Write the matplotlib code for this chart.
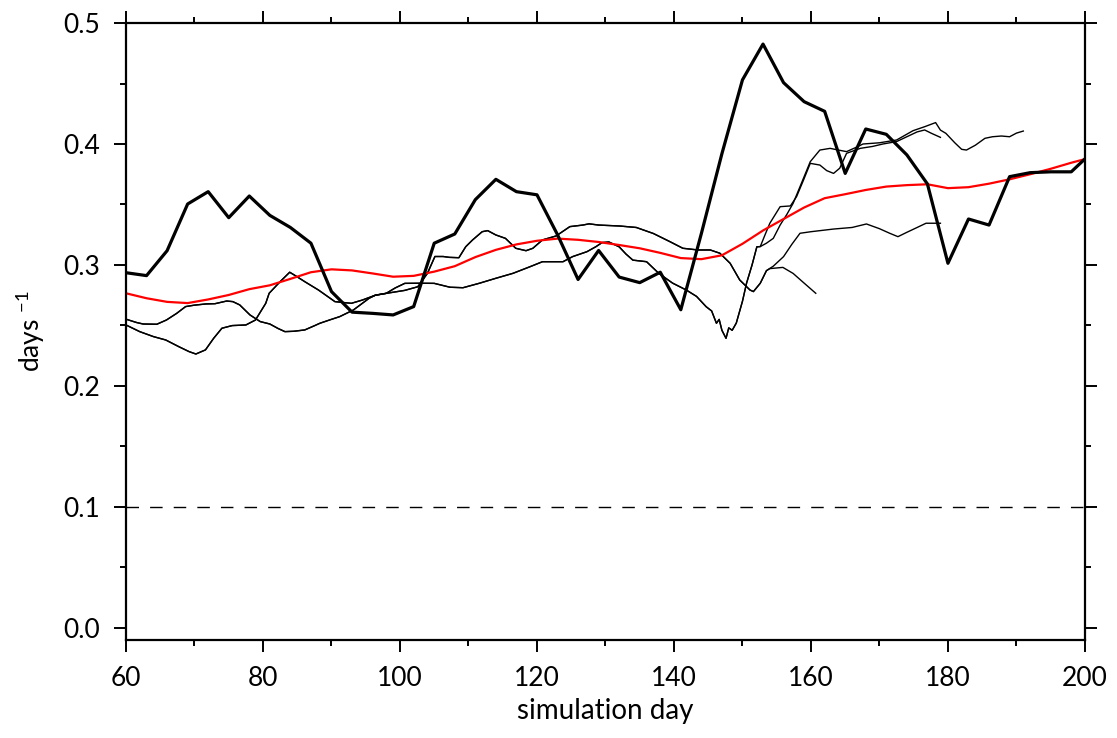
import matplotlib
matplotlib.use('Agg')
import matplotlib.pyplot as plt
import numpy as np

plt.rcParams['font.family'] = ['Lato', 'DejaVu Sans']
plt.rcParams['mathtext.default'] = 'regular'

# thick black line (sampled every 3 days)
thick_day = list(range(60, 202, 3))
thick_val = [0.2936, 0.2912, 0.3118, 0.3504, 0.3606, 0.3391, 0.3570, 0.3410,
             0.3310, 0.3180, 0.2780, 0.2610, 0.2600, 0.2587, 0.2656, 0.3180,
             0.3256, 0.3540, 0.3708, 0.3606, 0.3580, 0.3250, 0.2880, 0.3120,
             0.2900, 0.2854, 0.2940, 0.2630, 0.3260, 0.3920, 0.4530, 0.4826,
             0.4507, 0.4350, 0.4270, 0.3757, 0.4124, 0.4080, 0.3910, 0.3670,
             0.3014, 0.3380, 0.3330, 0.3730, 0.3763, 0.3770, 0.3770, 0.3930]

# red mean line
red_day = list(range(60, 202, 3))
red_val = [0.2766, 0.2725, 0.2695, 0.2685, 0.2715, 0.2752, 0.2800, 0.2832,
           0.2885, 0.2940, 0.2964, 0.2955, 0.2930, 0.2903, 0.2910, 0.2945,
           0.2990, 0.3065, 0.3125, 0.3170, 0.3200, 0.3218, 0.3208, 0.3190,
           0.3165, 0.3138, 0.3100, 0.3057, 0.3048, 0.3080, 0.3175, 0.3285,
           0.3380, 0.3475, 0.3552, 0.3585, 0.3620, 0.3648, 0.3660, 0.3667,
           0.3635, 0.3643, 0.3672, 0.3708, 0.3750, 0.3795, 0.3845, 0.3890]

# thin line pair "p" (shared part, then two endings)
p_day = [60, 61.5, 62.5, 64.5, 65.9, 67.4, 68.7, 70, 71.7, 73, 74.7, 75.6,
         76.6, 78.1, 79.6, 81, 82.2, 83.2, 84.5, 86.1, 87.6, 88.3, 89.7, 91.2,
         93.2, 95.5, 96.4, 98, 99.3, 100.7, 102.8, 105, 107.3, 109.2, 111.6,
         114, 116.5, 119, 120.8, 123.8, 125.2, 127.3, 128.6, 129.5, 130.5, 132,
         133, 134, 136, 137.8, 139.8, 141.8, 143.3, 144.7, 145.5, 146.2, 146.6,
         147, 147.6, 148, 148.5, 149.1, 150, 150.6, 151.4, 152.1, 152.6]
p_val = [0.2552, 0.2525, 0.2512, 0.2510, 0.2545, 0.2600, 0.2656, 0.2668,
         0.2678, 0.2680, 0.2702, 0.2697, 0.2670, 0.2587, 0.2532, 0.2512,
         0.2475, 0.2449, 0.2452, 0.2463, 0.2500, 0.2518, 0.2545, 0.2573,
         0.2628, 0.2725, 0.2750, 0.2766, 0.2810, 0.2848, 0.2849, 0.2848,
         0.2816, 0.2812, 0.2849, 0.2890, 0.2931, 0.2986, 0.3027, 0.3027,
         0.3069, 0.3110, 0.3151, 0.3185, 0.3190, 0.3150, 0.3090, 0.3040,
         0.3027, 0.2930, 0.2850, 0.2793, 0.2740, 0.2655, 0.2620, 0.2518,
         0.2550, 0.2460, 0.2394, 0.2480, 0.2460, 0.2520, 0.2700, 0.2850,
         0.3000, 0.3150, 0.3152]
p1_day = [152.6, 153.3, 154, 155.5, 157, 157.9, 158.9, 159.9, 161.3, 162.3,
          163.3, 164.2, 165.2, 167.2, 169, 170.5, 172.5, 174, 175.5, 176.6,
          177.6, 178.9]
p1_val = [0.3152, 0.3250, 0.3345, 0.3482, 0.3488, 0.3565, 0.3700, 0.3840,
          0.3826, 0.3780, 0.3757, 0.3800, 0.3923, 0.3964, 0.3980, 0.4000,
          0.4020, 0.4060, 0.4100, 0.4116, 0.4088, 0.4055]
p2_day = [152.6, 153.5, 154.5, 155.5, 156.5, 157.4, 158.4, 159.9, 161.3, 162.8,
          164, 165.2, 166.5, 167.6, 170, 172.5, 174.9, 176.6, 178.2, 178.9,
          179.7, 181, 182, 182.7, 184, 185.4, 186.5, 187.8, 189, 190, 191]
p2_val = [0.3152, 0.3180, 0.3220, 0.3330, 0.3420, 0.3510, 0.3647, 0.3854,
          0.3950, 0.3964, 0.3950, 0.3937, 0.3970, 0.4000, 0.4010, 0.4033,
          0.4110, 0.4143, 0.4177, 0.4115, 0.4088, 0.4010, 0.3956, 0.3950,
          0.3990, 0.4047, 0.4060, 0.4066, 0.4060, 0.4090, 0.4107]

# thin line pair "q" (shared part, then two endings)
q_day = [60, 62, 64, 65.8, 67.7, 69.2, 70.2, 71.6, 72.8, 74, 75.5, 77.5, 78.9,
         80.4, 80.9, 82.5, 83.9, 84.8, 86.1, 88.1, 90.5, 92.9, 94.5, 96.4,
         98.5, 100.7, 102.6, 104, 105.1, 106.3, 107.2, 108.6, 109.6, 110.6,
         112, 112.8, 114, 115.4, 116.9, 118.4, 119.4, 120.8, 122.8, 124.8,
         126.7, 127.6, 129, 132.1, 134.5, 137, 139.4, 141.3, 143.5, 145.3,
         146.7, 148.2, 149.6, 151.1, 151.6, 152.6, 153.5]
q_val = [0.2504, 0.2449, 0.2408, 0.2380, 0.2325, 0.2284, 0.2264, 0.2298,
         0.2394, 0.2477, 0.2499, 0.2504, 0.2545, 0.2683, 0.2766, 0.2862,
         0.2940, 0.2909, 0.2862, 0.2793, 0.2697, 0.2683, 0.2710, 0.2750,
         0.2770, 0.2790, 0.2820, 0.2930, 0.3070, 0.3070, 0.3063, 0.3060,
         0.3151, 0.3207, 0.3275, 0.3284, 0.3248, 0.3220, 0.3138, 0.3118,
         0.3138, 0.3207, 0.3240, 0.3317, 0.3330, 0.3340, 0.3330, 0.3322,
         0.3310, 0.3260, 0.3193, 0.3138, 0.3124, 0.3124, 0.3097, 0.3014,
         0.2876, 0.2793, 0.2780, 0.2849, 0.2953]
q1_day = [153.5, 154, 155.9, 157.4, 158.8, 160.7]
q1_val = [0.2953, 0.2970, 0.2980, 0.2930, 0.2860, 0.2766]
q2_day = [153.5, 154.5, 156, 157.2, 158.4, 160, 161.5, 163.3, 166, 168.1,
          170, 171.5, 172.7, 174, 175.5, 176.8, 178.9]
q2_val = [0.2953, 0.2990, 0.3069, 0.3170, 0.3262, 0.3275, 0.3285, 0.3297,
          0.3310, 0.3339, 0.3300, 0.3262, 0.3234, 0.3270, 0.3310, 0.3345,
          0.3345]

threshold = 0.1

fig = plt.figure(figsize=(11.17, 7.38), dpi=100)
ax = fig.add_axes([0.1128, 0.1328, 0.8585, 0.836])

thin = dict(color='black', linewidth=1.0)
for d1, v1, d2, v2 in [(p_day, p_val, p1_day, p1_val), (p_day, p_val, p2_day, p2_val),
                       (q_day, q_val, q1_day, q1_val), (q_day, q_val, q2_day, q2_val)]:
    ax.plot(d1 + d2[1:], v1 + v2[1:], **thin)

ax.plot(red_day, red_val, color='red', linewidth=1.6)
ax.plot(thick_day, thick_val, color='black', linewidth=2.3)
ax.axhline(threshold, color='black', linewidth=1.0, dashes=(9, 8))

ax.set_xlim(60, 200)
ax.set_ylim(-0.01, 0.5)
ax.set_xticks(range(60, 201, 20))
ax.set_xticks(range(70, 200, 20), minor=True)
ax.set_yticks(np.arange(0, 0.51, 0.1))
ax.set_yticks(np.arange(0.05, 0.5, 0.1), minor=True)
ax.yaxis.set_major_formatter(matplotlib.ticker.FormatStrFormatter('%.1f'))

for s in ax.spines.values():
    s.set_linewidth(1.6)
ax.tick_params(which='both', direction='out', top=True, right=True, width=1.4)
ax.tick_params(which='major', length=8.6, pad=10, labelsize=19)
ax.tick_params(which='minor', length=4.3)

ax.set_xlabel('simulation day', fontsize=20, labelpad=5)
ax.set_ylabel('days $^{-1}$', fontsize=19, labelpad=12)

plt.savefig('out.png', dpi=100)
